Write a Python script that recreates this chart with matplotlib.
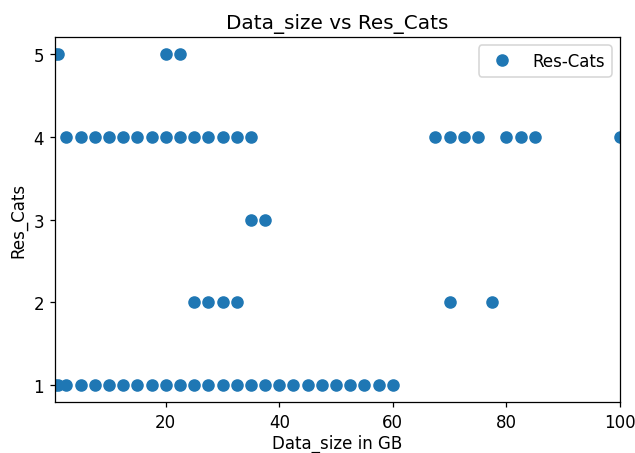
import numpy as np
import matplotlib.pyplot as plt

# data: (Data_size in GB, Res_Cats)
size_cat1 = [0.5, 1] + list(np.arange(2.5, 60.1, 2.5))
size_cat2 = [25, 27.5, 30, 32.5, 70, 77.5]
size_cat3 = [35, 37.5]
size_cat4 = list(np.arange(2.5, 35.1, 2.5)) + [67.5, 70, 72.5, 75, 80, 82.5, 85, 100]
size_cat5 = [0.5, 1, 20, 22.5]
cat_ticks = [1, 2, 3, 4, 5]

data_size = np.array(size_cat1 + size_cat2 + size_cat3 + size_cat4 + size_cat5)
res_cats = np.array([1] * len(size_cat1) + [2] * len(size_cat2) + [3] * len(size_cat3)
                    + [4] * len(size_cat4) + [5] * len(size_cat5))

plt.rcParams['font.size'] = 10.6

fig = plt.figure(figsize=(635 / 113, 454 / 113), dpi=113)
plt.subplots_adjust(left=55 / 635, right=620 / 635, top=1 - 38 / 454, bottom=1 - 403 / 454)

plt.plot(data_size, res_cats, 'o', markersize=7, label='Res-Cats')
plt.xlim(data_size.min(), data_size.max())
plt.yticks(cat_ticks)
plt.title('Data_size vs Res_Cats')
plt.xlabel('Data_size in GB', labelpad=1.5)
plt.ylabel('Res_Cats')
plt.legend(loc='upper right')

plt.savefig('out.png', dpi=113)
